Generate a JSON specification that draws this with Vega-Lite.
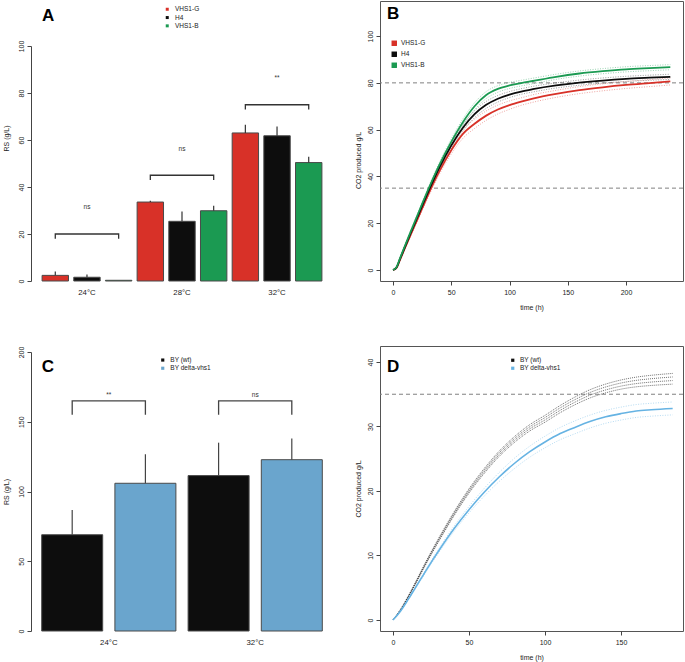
{
"$schema": "https://vega.github.io/schema/vega-lite/v6.json",
"padding": {"left": 2, "top": 0, "right": 2, "bottom": 1},
"config": {
 "font": "Liberation Sans",
 "view": {"stroke": null},
 "axis": {"labelFontSize": 7, "titleFontSize": 7, "titleFontWeight": "normal", "labelColor": "#222", "titleColor": "#222", "tickColor": "#444", "domainColor": "#444", "grid": false, "labelOverlap": false, "labelFlush": false},
 "legend": {"labelFontSize": 6.5, "labelColor": "#222", "padding": 0, "labelLimit": 200}
},
"datasets": {
 "rsA": [
  {"bar":"24°C VHS1-G","strain":"VHS1-G","rs":2.4,"top":4.0},
  {"bar":"24°C H4","strain":"H4","rs":1.6,"top":2.8},
  {"bar":"24°C VHS1-B","strain":"VHS1-B","rs":0.3,"top":0.3},
  {"bar":"28°C VHS1-G","strain":"VHS1-G","rs":33.6,"top":34.1},
  {"bar":"28°C H4","strain":"H4","rs":25.4,"top":29.6},
  {"bar":"28°C VHS1-B","strain":"VHS1-B","rs":29.9,"top":32.0},
  {"bar":"32°C VHS1-G","strain":"VHS1-G","rs":63.0,"top":66.5},
  {"bar":"32°C H4","strain":"H4","rs":61.8,"top":65.7},
  {"bar":"32°C VHS1-B","strain":"VHS1-B","rs":50.4,"top":52.9}
 ],
 "brA": [
  {"grp":"24°C","bar":"24°C VHS1-G","y":18,"k":1},{"grp":"24°C","bar":"24°C VHS1-G","y":20,"k":2},{"grp":"24°C","bar":"24°C VHS1-B","y":20,"k":3},{"grp":"24°C","bar":"24°C VHS1-B","y":18,"k":4},
  {"grp":"28°C","bar":"28°C VHS1-G","y":43,"k":1},{"grp":"28°C","bar":"28°C VHS1-G","y":45,"k":2},{"grp":"28°C","bar":"28°C VHS1-B","y":45,"k":3},{"grp":"28°C","bar":"28°C VHS1-B","y":43,"k":4},
  {"grp":"32°C","bar":"32°C VHS1-G","y":73,"k":1},{"grp":"32°C","bar":"32°C VHS1-G","y":75,"k":2},{"grp":"32°C","bar":"32°C VHS1-B","y":75,"k":3},{"grp":"32°C","bar":"32°C VHS1-B","y":73,"k":4}
 ],
 "sigA": [{"bar":"24°C H4","y":31.5,"label":"ns"},{"bar":"28°C H4","y":56.3,"label":"ns"},{"bar":"32°C H4","y":86.5,"label":"**"}],
 "rsC": [
  {"bar":"24°C BY (wt)","g":"BY (wt)","rs":69.0,"top":86.7},
  {"bar":"24°C BY delta-vhs1","g":"BY delta-vhs1","rs":105.9,"top":126.7},
  {"bar":"32°C BY (wt)","g":"BY (wt)","rs":111.4,"top":135.0},
  {"bar":"32°C BY delta-vhs1","g":"BY delta-vhs1","rs":122.8,"top":138.0}
 ],
 "brC": [
  {"grp":"24°C","bar":"24°C BY (wt)","y":155,"k":1},{"grp":"24°C","bar":"24°C BY (wt)","y":165,"k":2},{"grp":"24°C","bar":"24°C BY delta-vhs1","y":165,"k":3},{"grp":"24°C","bar":"24°C BY delta-vhs1","y":155,"k":4},
  {"grp":"32°C","bar":"32°C BY (wt)","y":155,"k":1},{"grp":"32°C","bar":"32°C BY (wt)","y":165,"k":2},{"grp":"32°C","bar":"32°C BY delta-vhs1","y":165,"k":3},{"grp":"32°C","bar":"32°C BY delta-vhs1","y":155,"k":4}
 ],
 "sigC": [{"bar":"24°C BY (wt)","y":169.5,"label":"**"},{"bar":"32°C BY (wt)","y":169,"label":"ns"}],
 "co2B": [
  {"s":"VHS1-G","t":0,"m":0,"lo":0,"hi":0},{"s":"VHS1-G","t":3,"m":0.9,"lo":0.6,"hi":1.2},{"s":"VHS1-G","t":6,"m":4.3,"lo":3.9,"hi":4.7},{"s":"VHS1-G","t":10,"m":9.1,"lo":8.6,"hi":9.6},{"s":"VHS1-G","t":15,"m":14.9,"lo":14.2,"hi":15.6},{"s":"VHS1-G","t":20,"m":20.6,"lo":19.8,"hi":21.4},{"s":"VHS1-G","t":25,"m":26.3,"lo":25.4,"hi":27.2},{"s":"VHS1-G","t":30,"m":32.0,"lo":30.9,"hi":33.1},{"s":"VHS1-G","t":40,"m":42.4,"lo":41.1,"hi":43.7},{"s":"VHS1-G","t":50,"m":51.2,"lo":49.6,"hi":52.8},{"s":"VHS1-G","t":60,"m":58.2,"lo":56.3,"hi":60.1},{"s":"VHS1-G","t":70,"m":62.5,"lo":60.5,"hi":64.5},{"s":"VHS1-G","t":80,"m":66.0,"lo":64.0,"hi":68.0},{"s":"VHS1-G","t":90,"m":68.6,"lo":66.7,"hi":70.5},{"s":"VHS1-G","t":100,"m":70.5,"lo":68.7,"hi":72.3},{"s":"VHS1-G","t":110,"m":72.0,"lo":70.4,"hi":73.6},{"s":"VHS1-G","t":120,"m":73.3,"lo":71.7,"hi":74.9},{"s":"VHS1-G","t":140,"m":75.3,"lo":73.8,"hi":76.8},{"s":"VHS1-G","t":160,"m":76.9,"lo":75.4,"hi":78.4},{"s":"VHS1-G","t":180,"m":78.1,"lo":76.6,"hi":79.6},{"s":"VHS1-G","t":200,"m":79.1,"lo":77.6,"hi":80.6},{"s":"VHS1-G","t":220,"m":79.9,"lo":78.4,"hi":81.4},{"s":"VHS1-G","t":238,"m":80.6,"lo":79.1,"hi":82.1},
  {"s":"H4","t":0,"m":0,"lo":0,"hi":0},{"s":"H4","t":3,"m":1.1,"lo":0.9,"hi":1.3},{"s":"H4","t":6,"m":4.7,"lo":4.4,"hi":5.0},{"s":"H4","t":10,"m":9.6,"lo":9.2,"hi":10.0},{"s":"H4","t":15,"m":15.6,"lo":15.1,"hi":16.1},{"s":"H4","t":20,"m":21.5,"lo":20.9,"hi":22.1},{"s":"H4","t":25,"m":27.4,"lo":26.7,"hi":28.1},{"s":"H4","t":30,"m":33.2,"lo":32.4,"hi":34.0},{"s":"H4","t":40,"m":44.0,"lo":43.0,"hi":45.0},{"s":"H4","t":50,"m":53.2,"lo":52.0,"hi":54.4},{"s":"H4","t":60,"m":60.8,"lo":59.4,"hi":62.2},{"s":"H4","t":70,"m":66.6,"lo":65.1,"hi":68.1},{"s":"H4","t":80,"m":70.6,"lo":69.1,"hi":72.1},{"s":"H4","t":90,"m":73.2,"lo":71.8,"hi":74.6},{"s":"H4","t":100,"m":75.0,"lo":73.7,"hi":76.3},{"s":"H4","t":110,"m":76.3,"lo":75.1,"hi":77.5},{"s":"H4","t":120,"m":77.3,"lo":76.1,"hi":78.5},{"s":"H4","t":140,"m":78.9,"lo":77.8,"hi":80.0},{"s":"H4","t":160,"m":80.1,"lo":79.0,"hi":81.2},{"s":"H4","t":180,"m":81.0,"lo":79.9,"hi":82.1},{"s":"H4","t":200,"m":81.7,"lo":80.6,"hi":82.8},{"s":"H4","t":220,"m":82.2,"lo":81.1,"hi":83.3},{"s":"H4","t":238,"m":82.6,"lo":81.5,"hi":83.7},
  {"s":"VHS1-B","t":0,"m":0,"lo":0,"hi":0},{"s":"VHS1-B","t":3,"m":1.2,"lo":1.0,"hi":1.4},{"s":"VHS1-B","t":6,"m":5.0,"lo":4.7,"hi":5.3},{"s":"VHS1-B","t":10,"m":10.0,"lo":9.6,"hi":10.4},{"s":"VHS1-B","t":15,"m":16.2,"lo":15.7,"hi":16.7},{"s":"VHS1-B","t":20,"m":22.2,"lo":21.6,"hi":22.8},{"s":"VHS1-B","t":25,"m":28.3,"lo":27.6,"hi":29.0},{"s":"VHS1-B","t":30,"m":34.2,"lo":33.4,"hi":35.0},{"s":"VHS1-B","t":40,"m":45.2,"lo":44.2,"hi":46.2},{"s":"VHS1-B","t":50,"m":54.8,"lo":53.6,"hi":56.0},{"s":"VHS1-B","t":60,"m":63.2,"lo":61.8,"hi":64.6},{"s":"VHS1-B","t":70,"m":70.0,"lo":68.5,"hi":71.5},{"s":"VHS1-B","t":80,"m":74.8,"lo":73.3,"hi":76.3},{"s":"VHS1-B","t":90,"m":77.4,"lo":76.0,"hi":78.8},{"s":"VHS1-B","t":100,"m":78.9,"lo":77.6,"hi":80.2},{"s":"VHS1-B","t":110,"m":79.9,"lo":78.7,"hi":81.1},{"s":"VHS1-B","t":120,"m":80.8,"lo":79.6,"hi":82.0},{"s":"VHS1-B","t":140,"m":82.6,"lo":81.5,"hi":83.7},{"s":"VHS1-B","t":160,"m":84.0,"lo":82.9,"hi":85.1},{"s":"VHS1-B","t":180,"m":85.0,"lo":83.9,"hi":86.1},{"s":"VHS1-B","t":200,"m":85.8,"lo":84.7,"hi":86.9},{"s":"VHS1-B","t":220,"m":86.3,"lo":85.2,"hi":87.4},{"s":"VHS1-B","t":238,"m":86.7,"lo":85.6,"hi":87.8}
 ],
 "dBlack": [
  {"t":0,"a":0,"b":0,"c":0,"d":0},{"t":5,"a":1.68,"b":1.63,"c":1.57,"d":1.52},{"t":10,"a":3.71,"b":3.64,"c":3.56,"d":3.49},{"t":15,"a":5.95,"b":5.85,"c":5.75,"d":5.65},{"t":20,"a":8.29,"b":8.16,"c":8.04,"d":7.91},{"t":25,"a":10.52,"b":10.37,"c":10.23,"d":10.08},{"t":30,"a":12.66,"b":12.49,"c":12.31,"d":12.14},{"t":40,"a":16.7,"b":16.5,"c":16.3,"d":16.1},{"t":50,"a":20.34,"b":20.11,"c":19.89,"d":19.66},{"t":60,"a":23.48,"b":23.23,"c":22.97,"d":22.72},{"t":70,"a":26.21,"b":25.94,"c":25.66,"d":25.39},{"t":80,"a":28.45,"b":28.15,"c":27.85,"d":27.55},{"t":90,"a":30.29,"b":29.96,"c":29.64,"d":29.31},{"t":100,"a":31.73,"b":31.38,"c":31.02,"d":30.67},{"t":110,"a":33.26,"b":32.89,"c":32.51,"d":32.14},{"t":120,"a":34.6,"b":34.2,"c":33.8,"d":33.4},{"t":130,"a":35.74,"b":35.31,"c":34.89,"d":34.46},{"t":140,"a":36.58,"b":36.13,"c":35.67,"d":35.22},{"t":150,"a":37.21,"b":36.74,"c":36.26,"d":35.79},{"t":160,"a":37.65,"b":37.15,"c":36.65,"d":36.15},{"t":170,"a":37.94,"b":37.41,"c":36.89,"d":36.36},{"t":184,"a":38.23,"b":37.68,"c":37.12,"d":36.57}
 ],
 "dBlue": [
  {"g":"BY delta-vhs1","t":0,"m":0,"lo":0,"hi":0},{"g":"BY delta-vhs1","t":5,"m":1.4,"lo":1.35,"hi":1.45},{"g":"BY delta-vhs1","t":10,"m":3.2,"lo":3.1,"hi":3.3},{"g":"BY delta-vhs1","t":15,"m":5.1,"lo":4.95,"hi":5.25},{"g":"BY delta-vhs1","t":20,"m":7.0,"lo":6.8,"hi":7.2},{"g":"BY delta-vhs1","t":25,"m":8.9,"lo":8.65,"hi":9.15},{"g":"BY delta-vhs1","t":30,"m":10.7,"lo":10.4,"hi":11.0},{"g":"BY delta-vhs1","t":40,"m":14.1,"lo":13.7,"hi":14.5},{"g":"BY delta-vhs1","t":50,"m":17.1,"lo":16.6,"hi":17.6},{"g":"BY delta-vhs1","t":60,"m":19.8,"lo":19.2,"hi":20.4},{"g":"BY delta-vhs1","t":70,"m":22.2,"lo":21.5,"hi":22.9},{"g":"BY delta-vhs1","t":80,"m":24.3,"lo":23.5,"hi":25.1},{"g":"BY delta-vhs1","t":90,"m":26.1,"lo":25.25,"hi":26.95},{"g":"BY delta-vhs1","t":100,"m":27.6,"lo":26.7,"hi":28.5},{"g":"BY delta-vhs1","t":110,"m":28.9,"lo":27.95,"hi":29.85},{"g":"BY delta-vhs1","t":120,"m":29.9,"lo":28.9,"hi":30.9},{"g":"BY delta-vhs1","t":130,"m":30.8,"lo":29.8,"hi":31.8},{"g":"BY delta-vhs1","t":140,"m":31.5,"lo":30.5,"hi":32.5},{"g":"BY delta-vhs1","t":150,"m":32.0,"lo":31.0,"hi":33.0},{"g":"BY delta-vhs1","t":160,"m":32.4,"lo":31.4,"hi":33.4},{"g":"BY delta-vhs1","t":170,"m":32.6,"lo":31.6,"hi":33.6},{"g":"BY delta-vhs1","t":184,"m":32.8,"lo":31.8,"hi":33.8}
 ]
},
"columns": 2,
"bounds": "flush",
"align": "each",
"spacing": {"row": 65, "column": 47},
"resolve": {"scale": {"color": "independent"}, "legend": {"color": "independent"}},
"concat": [
 {
  "width": 302, "height": 280,
  "layer": [
   {"data": {"name": "rsA"},
    "mark": {"type": "bar", "stroke": "#4a4a4a", "strokeWidth": 1},
    "encoding": {
     "x": {"field": "bar", "type": "nominal", "scale": {"domain": ["24°C VHS1-G","24°C H4","24°C VHS1-B","28°C VHS1-G","28°C H4","28°C VHS1-B","32°C VHS1-G","32°C H4","32°C VHS1-B"], "paddingInner": 0.1667, "paddingOuter": 0.35}, "axis": {"title": null, "labelAngle": 0, "domain": false, "ticks": false, "labelPadding": 7, "labelFontSize": 7.8, "labelExpr": "indexof(datum.label, 'H4') >= 0 ? slice(datum.label, 0, 4) : ''"}},
     "y": {"field": "rs", "type": "quantitative", "scale": {"domain": [0,100], "range": [280,45], "nice": false}, "axis": {"values": [0,20,40,60,80,100], "title": "RS (g/L)", "titleY": 137, "titlePadding": 8, "tickSize": 4, "labelAngle": -90, "labelAlign": "center", "labelBaseline": "bottom", "labelPadding": 3}},
     "color": {"field": "strain", "type": "nominal", "scale": {"domain": ["VHS1-G","H4","VHS1-B"], "range": ["#d83128","#0d0d0d","#1b9a52"]}, "legend": {"title": null, "orient": "none", "legendX": 133, "legendY": 5, "symbolType": "square", "symbolSize": 9, "symbolStrokeWidth": 0, "rowPadding": 1.3, "labelOffset": 4.5, "labelExpr": "datum.label == 'H4' ? '\u00a0\u00a0\u00a0H4' : datum.label"}}
    }},
   {"data": {"name": "rsA"},
    "mark": {"type": "rule", "color": "#333", "strokeWidth": 1.2},
    "encoding": {
     "x": {"field": "bar", "type": "nominal"},
     "y": {"field": "rs", "type": "quantitative"},
     "y2": {"field": "top"}
    }},
   {"data": {"name": "brA"},
    "mark": {"type": "line", "color": "#333", "strokeWidth": 1.3},
    "encoding": {
     "x": {"field": "bar", "type": "nominal"},
     "y": {"field": "y", "type": "quantitative"},
     "detail": {"field": "grp"},
     "order": {"field": "k", "type": "quantitative"}
    }},
   {"data": {"name": "sigA"},
    "mark": {"type": "text", "fontSize": 6.5, "color": "#333", "baseline": "middle"},
    "encoding": {
     "x": {"field": "bar", "type": "nominal"},
     "y": {"field": "y", "type": "quantitative"},
     "text": {"field": "label"}
    }},
   {"data": {"values": [{"bar": "24°C VHS1-G", "y": 110.7, "label": "A"}]},
    "mark": {"type": "text", "fontSize": 17, "fontWeight": "bold", "color": "#000", "align": "left", "baseline": "alphabetic"},
    "encoding": {
     "x": {"field": "bar", "type": "nominal", "bandPosition": 0},
     "y": {"field": "y", "type": "quantitative"},
     "text": {"field": "label"}
    }}
  ]
 },
 {
  "width": 303, "height": 280,
  "view": {"stroke": "#555", "strokeWidth": 1},
  "layer": [
   {"data": {"values": [{"h": 80}, {"h": 35}]},
    "mark": {"type": "rule", "strokeDash": [4, 3], "color": "#808080", "strokeWidth": 1},
    "encoding": {"y": {"field": "h", "type": "quantitative", "scale": {"domain": [-4.7, 115], "nice": false, "zero": false}, "axis": {"values": [0,20,40,60,80,100], "domain": false, "tickSize": 4, "labelAngle": -90, "labelAlign": "center", "labelBaseline": "bottom", "labelPadding": 3, "title": "CO2 produced g/L", "titlePadding": 5, "titleY": 159}}}},
   {"data": {"name": "co2B"},
    "transform": [{"filter": "datum.s == 'VHS1-G'"}],
    "mark": {"type": "line", "strokeDash": [1, 1.5], "strokeWidth": 0.8, "color": "#d83128", "opacity": 0.55, "interpolate": "monotone"},
    "encoding": {
     "x": {"field": "t", "type": "quantitative", "scale": {"domain": [-11.16, 248.9], "nice": false, "zero": false}, "axis": {"values": [0,50,100,150,200], "domain": false, "tickSize": 4, "labelPadding": 3, "title": "time (h)", "titlePadding": 8}},
     "y": {"field": "lo", "type": "quantitative", "axis": {"title": "CO2 produced g/L"}}
    }},
   {"data": {"name": "co2B"},
    "transform": [{"filter": "datum.s == 'VHS1-G'"}],
    "mark": {"type": "line", "strokeDash": [1, 1.5], "strokeWidth": 0.8, "color": "#d83128", "opacity": 0.55, "interpolate": "monotone"},
    "encoding": {"x": {"field": "t", "type": "quantitative", "axis": {"title": "time (h)"}}, "y": {"field": "hi", "type": "quantitative", "axis": {"title": "CO2 produced g/L"}}}},
   {"data": {"name": "co2B"},
    "transform": [{"filter": "datum.s == 'H4'"}],
    "mark": {"type": "line", "strokeDash": [1, 1.5], "strokeWidth": 0.8, "color": "#0d0d0d", "opacity": 0.5, "interpolate": "monotone"},
    "encoding": {"x": {"field": "t", "type": "quantitative", "axis": {"title": "time (h)"}}, "y": {"field": "lo", "type": "quantitative", "axis": {"title": "CO2 produced g/L"}}}},
   {"data": {"name": "co2B"},
    "transform": [{"filter": "datum.s == 'H4'"}],
    "mark": {"type": "line", "strokeDash": [1, 1.5], "strokeWidth": 0.8, "color": "#0d0d0d", "opacity": 0.5, "interpolate": "monotone"},
    "encoding": {"x": {"field": "t", "type": "quantitative", "axis": {"title": "time (h)"}}, "y": {"field": "hi", "type": "quantitative", "axis": {"title": "CO2 produced g/L"}}}},
   {"data": {"name": "co2B"},
    "transform": [{"filter": "datum.s == 'VHS1-B'"}],
    "mark": {"type": "line", "strokeDash": [1, 1.5], "strokeWidth": 0.8, "color": "#1b9a52", "opacity": 0.55, "interpolate": "monotone"},
    "encoding": {"x": {"field": "t", "type": "quantitative", "axis": {"title": "time (h)"}}, "y": {"field": "lo", "type": "quantitative", "axis": {"title": "CO2 produced g/L"}}}},
   {"data": {"name": "co2B"},
    "transform": [{"filter": "datum.s == 'VHS1-B'"}],
    "mark": {"type": "line", "strokeDash": [1, 1.5], "strokeWidth": 0.8, "color": "#1b9a52", "opacity": 0.55, "interpolate": "monotone"},
    "encoding": {"x": {"field": "t", "type": "quantitative", "axis": {"title": "time (h)"}}, "y": {"field": "hi", "type": "quantitative", "axis": {"title": "CO2 produced g/L"}}}},
   {"data": {"name": "co2B"},
    "mark": {"type": "line", "strokeWidth": 1.8, "interpolate": "monotone"},
    "encoding": {
     "x": {"field": "t", "type": "quantitative", "axis": {"title": "time (h)"}},
     "y": {"field": "m", "type": "quantitative", "axis": {"title": "CO2 produced g/L"}},
     "color": {"field": "s", "type": "nominal", "scale": {"domain": ["VHS1-G","H4","VHS1-B"], "range": ["#d83128","#0d0d0d","#1b9a52"]}, "legend": {"title": null, "orient": "none", "legendX": 11, "legendY": 39, "symbolType": "square", "symbolSize": 6, "symbolStrokeWidth": 3, "rowPadding": -10.5, "labelOffset": 3.5, "labelExpr": "datum.label == 'H4' ? '\u00a0\u00a0\u00a0H4' : datum.label"}}
    }},
   {"data": {"values": [{"t": -5.2, "v": 107.3, "label": "B"}]},
    "mark": {"type": "text", "fontSize": 17, "fontWeight": "bold", "color": "#000", "align": "left", "baseline": "alphabetic"},
    "encoding": {
     "x": {"field": "t", "type": "quantitative", "axis": {"title": "time (h)"}},
     "y": {"field": "v", "type": "quantitative", "axis": {"title": "CO2 produced g/L"}},
     "text": {"field": "label"}
    }}
  ]
 },
 {
  "width": 302, "height": 285,
  "layer": [
   {"data": {"name": "rsC"},
    "mark": {"type": "bar", "stroke": "#4a4a4a", "strokeWidth": 1},
    "encoding": {
     "x": {"field": "bar", "type": "nominal", "scale": {"domain": ["24°C BY (wt)","24°C BY delta-vhs1","32°C BY (wt)","32°C BY delta-vhs1"], "paddingInner": 0.1667, "paddingOuter": 0.1462}, "axis": {"title": null, "labelAngle": 0, "domain": false, "ticks": false, "labelPadding": 7, "labelFontSize": 7.8, "labelOffset": 36.6, "labelExpr": "indexof(datum.label, '(wt)') >= 0 ? slice(datum.label, 0, 4) : ''"}},
     "y": {"field": "rs", "type": "quantitative", "scale": {"domain": [0,200], "range": [285,6], "nice": false}, "axis": {"values": [0,50,100,150,200], "title": "RS (g/L)", "titlePadding": 8, "tickSize": 4, "labelAngle": -90, "labelAlign": "center", "labelBaseline": "bottom", "labelPadding": 3}},
     "color": {"field": "g", "type": "nominal", "scale": {"domain": ["BY (wt)","BY delta-vhs1"], "range": ["#0d0d0d","#6aa5cd"]}, "legend": {"title": null, "orient": "none", "legendX": 128.5, "legendY": 10.8, "symbolType": "square", "symbolSize": 10, "symbolStrokeWidth": 0, "rowPadding": 1.2, "labelOffset": 4.3, "labelExpr": "datum.label == 'BY (wt)' ? '\u00a0\u00a0\u00a0\u00a0BY (wt)' : datum.label"}}
    }},
   {"data": {"name": "rsC"},
    "mark": {"type": "rule", "color": "#444", "strokeWidth": 1.2},
    "encoding": {
     "x": {"field": "bar", "type": "nominal"},
     "y": {"field": "rs", "type": "quantitative"},
     "y2": {"field": "top"}
    }},
   {"data": {"name": "brC"},
    "mark": {"type": "line", "color": "#444", "strokeWidth": 1.3},
    "encoding": {
     "x": {"field": "bar", "type": "nominal"},
     "y": {"field": "y", "type": "quantitative"},
     "detail": {"field": "grp"},
     "order": {"field": "k", "type": "quantitative"}
    }},
   {"data": {"name": "sigC"},
    "mark": {"type": "text", "fontSize": 6.5, "color": "#333", "baseline": "middle"},
    "encoding": {
     "x": {"field": "bar", "type": "nominal", "bandPosition": 1.1},
     "y": {"field": "y", "type": "quantitative"},
     "text": {"field": "label"}
    }},
   {"data": {"values": [{"bar": "24°C BY (wt)", "y": 185.7, "label": "C"}]},
    "mark": {"type": "text", "fontSize": 17, "fontWeight": "bold", "color": "#000", "align": "left", "baseline": "alphabetic"},
    "encoding": {
     "x": {"field": "bar", "type": "nominal", "bandPosition": 0},
     "y": {"field": "y", "type": "quantitative"},
     "text": {"field": "label"}
    }}
  ]
 },
 {
  "width": 303, "height": 285,
  "view": {"stroke": "#555", "strokeWidth": 1},
  "layer": [
   {"data": {"values": [{"h": 35}]},
    "mark": {"type": "rule", "strokeDash": [4, 3], "color": "#808080", "strokeWidth": 1},
    "encoding": {"y": {"field": "h", "type": "quantitative", "scale": {"domain": [-1.71, 42.48], "nice": false, "zero": false}, "axis": {"values": [0,10,20,30,40], "domain": false, "tickSize": 4, "labelAngle": -90, "labelAlign": "center", "labelBaseline": "bottom", "labelPadding": 3, "title": "CO2 produced g/L", "titlePadding": 5}}}},
   {"data": {"name": "dBlack"},
    "mark": {"type": "line", "strokeDash": [1, 1], "strokeWidth": 0.8, "color": "#111", "opacity": 0.75, "interpolate": "monotone"},
    "encoding": {
     "x": {"field": "t", "type": "quantitative", "scale": {"domain": [-8.55, 190.8], "nice": false, "zero": false}, "axis": {"values": [0,50,100,150], "domain": false, "tickSize": 4, "labelPadding": 3, "title": "time (h)", "titlePadding": 8}},
     "y": {"field": "a", "type": "quantitative", "axis": {"title": "CO2 produced g/L"}}
    }},
   {"data": {"name": "dBlack"},
    "mark": {"type": "line", "strokeDash": [1, 1], "strokeWidth": 0.8, "color": "#111", "opacity": 0.75, "interpolate": "monotone"},
    "encoding": {"x": {"field": "t", "type": "quantitative", "axis": {"title": "time (h)"}}, "y": {"field": "b", "type": "quantitative", "axis": {"title": "CO2 produced g/L"}}}},
   {"data": {"name": "dBlack"},
    "mark": {"type": "line", "strokeDash": [1, 1], "strokeWidth": 0.8, "color": "#111", "opacity": 0.75, "interpolate": "monotone"},
    "encoding": {"x": {"field": "t", "type": "quantitative", "axis": {"title": "time (h)"}}, "y": {"field": "c", "type": "quantitative", "axis": {"title": "CO2 produced g/L"}}}},
   {"data": {"name": "dBlack"},
    "mark": {"type": "line", "strokeDash": [1, 1], "strokeWidth": 0.8, "color": "#111", "opacity": 0.75, "interpolate": "monotone"},
    "encoding": {"x": {"field": "t", "type": "quantitative", "axis": {"title": "time (h)"}}, "y": {"field": "d", "type": "quantitative", "axis": {"title": "CO2 produced g/L"}}}},
   {"data": {"name": "dBlue"},
    "mark": {"type": "line", "strokeDash": [1, 1.5], "strokeWidth": 0.8, "color": "#66b3e3", "opacity": 0.6, "interpolate": "monotone"},
    "encoding": {"x": {"field": "t", "type": "quantitative", "axis": {"title": "time (h)"}}, "y": {"field": "lo", "type": "quantitative", "axis": {"title": "CO2 produced g/L"}}}},
   {"data": {"name": "dBlue"},
    "mark": {"type": "line", "strokeDash": [1, 1.5], "strokeWidth": 0.8, "color": "#66b3e3", "opacity": 0.6, "interpolate": "monotone"},
    "encoding": {"x": {"field": "t", "type": "quantitative", "axis": {"title": "time (h)"}}, "y": {"field": "hi", "type": "quantitative", "axis": {"title": "CO2 produced g/L"}}}},
   {"data": {"name": "dBlue"},
    "mark": {"type": "line", "strokeWidth": 1.6, "interpolate": "monotone"},
    "encoding": {
     "x": {"field": "t", "type": "quantitative", "axis": {"title": "time (h)"}},
     "y": {"field": "m", "type": "quantitative", "axis": {"title": "CO2 produced g/L"}},
     "color": {"field": "g", "type": "nominal", "scale": {"domain": ["BY (wt)","BY delta-vhs1"], "range": ["#111111","#66b3e3"]}, "legend": {"title": null, "orient": "none", "legendX": 129.5, "legendY": 11, "symbolType": "square", "symbolSize": 1.5, "symbolStrokeWidth": 2, "rowPadding": -4.6, "labelOffset": 4, "labelExpr": "datum.label == 'BY (wt)' ? '\u00a0BY (wt)' : datum.label"}}
    }},
   {"data": {"values": [{"t": -3.9, "v": 38.45, "label": "D"}]},
    "mark": {"type": "text", "fontSize": 17, "fontWeight": "bold", "color": "#000", "align": "left", "baseline": "alphabetic"},
    "encoding": {
     "x": {"field": "t", "type": "quantitative", "axis": {"title": "time (h)"}},
     "y": {"field": "v", "type": "quantitative", "axis": {"title": "CO2 produced g/L"}},
     "text": {"field": "label"}
    }}
  ]
 }
]
}
